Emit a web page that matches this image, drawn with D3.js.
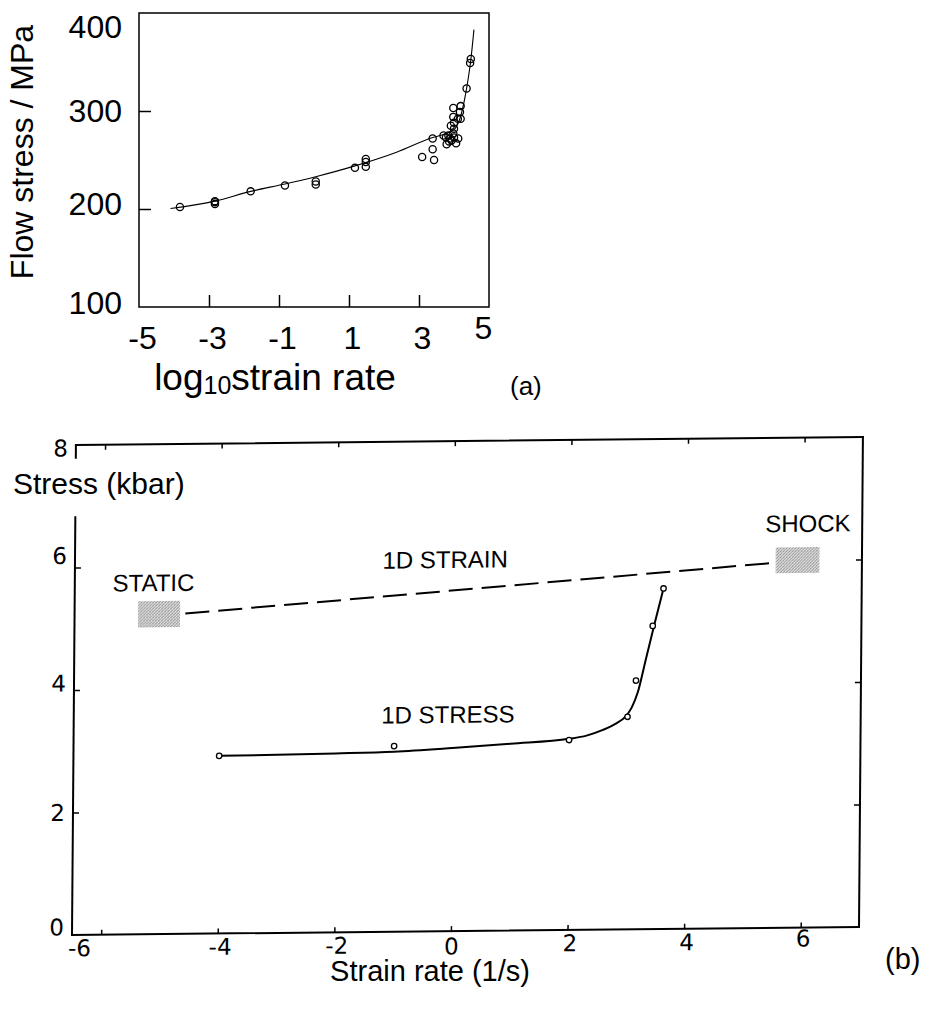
<!DOCTYPE html>
<html>
<head>
<meta charset="utf-8">
<script src="https://cdn.jsdelivr.net/npm/d3@7"></script>
<style>
  html, body { margin: 0; padding: 0; background: #fff; }
  svg { display: block; font-family: "Liberation Sans", Arial, Helvetica, sans-serif; }
</style>
</head>
<body>
<svg id="fig" width="925" height="1012"></svg>
<script>
// ---------- Panel (a): flow stress vs log10 strain rate ----------
const aRateTicks = [-5, -3, -1, 1, 3, 5];
const aStressTicks = [100, 200, 300, 400];

const aRate = [-3.83, -2.83, -2.83, -2.83, -1.81, -0.83, 0.05, 0.05, 1.17, 1.48, 1.48, 1.48,
  3.09, 3.43, 3.39, 3.39, 3.70, 3.77, 3.84, 3.89, 3.79, 3.93, 3.98, 4.06, 4.12, 3.86, 4.00,
  3.91, 3.98, 4.00, 4.00, 4.11, 4.19, 4.17, 3.98, 4.19, 4.36, 4.46, 4.48];
const aStress = [202, 205, 207, 208, 218, 224, 225, 228, 242, 243, 248, 251,
  253, 250, 261, 272, 275, 273, 275, 272, 266, 270, 277, 267, 272, 269, 273,
  285, 294, 282, 288, 292, 292, 299, 303, 305, 323, 349, 353];

const aFitRate = [-4.1, -2.83, -1.81, -0.83, 0.05, 1.17, 2.36, 3.39, 3.74, 4.03, 4.2, 4.36, 4.48, 4.57];
const aFitStress = [200.5, 208, 218, 225.5, 233, 244, 258, 273, 276.5, 282, 296, 323, 352, 383];

// ---------- Panel (b): stress vs strain rate ----------
const bRateTicks = [-6, -4, -2, 0, 2, 4, 6];
const bStressTicks = [0, 2, 4, 6, 8];

const bStressRate = [-4, -1, 2, 3, 3.14, 3.42, 3.6];
const bStressVal = [2.9, 3.03, 3.1, 3.47, 4.06, 4.95, 5.56];

const bFitRate = [-4, -2, -1, 0, 1, 2, 2.3, 2.58, 2.8, 2.96, 3.07, 3.17, 3.31, 3.45, 3.6];
const bFitStress = [2.9, 2.92, 2.94, 2.99, 3.05, 3.12, 3.17, 3.26, 3.36, 3.47, 3.62, 3.86, 4.42, 4.98, 5.56];

const bStrainRate = [-4.6, 5.5];
const bStrainStress = [5.23, 5.96];

const bRegionNames = ["STATIC", "SHOCK"];
const bRegionRate = [[-5.41, -4.69], [5.52, 6.27]];
const bRegionStress = [[5.01, 5.44], [5.79, 6.21]];

const bNotes = ["STATIC", "1D STRAIN", "SHOCK", "1D STRESS"];
const bNoteRate = [-5.15, -0.15, 6.07, -0.08];
const bNoteStress = [5.60, 5.93, 6.46, 3.40];

const plain = d => String(d);   // hyphen-minus for negative ticks

const svg = d3.select("#fig");
svg.append("rect").attr("width", 925).attr("height", 1012).attr("fill", "#fff");

const defs = svg.append("defs");
const pat = defs.append("pattern").attr("id", "stipple")
  .attr("width", 3).attr("height", 3).attr("patternUnits", "userSpaceOnUse");
pat.append("rect").attr("width", 3).attr("height", 3).attr("fill", "#e2e2e2");
[[0, 0, "#6a6a6a"], [2, 1, "#909090"], [1, 2, "#7e7e7e"]].forEach(([x, y, c]) =>
  pat.append("rect").attr("x", x).attr("y", y).attr("width", 1).attr("height", 1).attr("fill", c));

// ===== Panel (a) =====
const xA = d3.scaleLinear().domain([-5, 5]).range([139, 489]);
const yA = d3.scaleLinear().domain([100, 400]).range([307, 13]);
const gA = svg.append("g");

gA.append("rect")
  .attr("x", xA(-5)).attr("y", yA(400))
  .attr("width", xA(5) - xA(-5)).attr("height", yA(100) - yA(400))
  .attr("fill", "none").attr("stroke", "#000").attr("stroke-width", 1.5);

const axA_x = gA.append("g").attr("transform", `translate(0,${yA(100)})`)
  .call(d3.axisBottom(xA).tickValues(aRateTicks).tickSize(-12).tickPadding(19).tickFormat(plain));
const axA_y = gA.append("g").attr("transform", `translate(${xA(-5)},0)`)
  .call(d3.axisLeft(yA).tickValues(aStressTicks).tickSize(-12).tickPadding(17).tickFormat(plain));
[axA_x, axA_y].forEach(ax => {
  ax.select(".domain").remove();
  ax.selectAll("line").attr("stroke", "#000").attr("stroke-width", 1.5);
  ax.selectAll("text").attr("font-size", 32).attr("fill", "#000")
    .attr("font-family", "'Liberation Sans', Arial, sans-serif");
});
axA_x.selectAll(".tick").filter(d => d === -5 || d === 5).select("line").remove();
axA_x.selectAll(".tick text").attr("dx", d => d === 5 ? -6 : 3).attr("dy", d => d === 5 ? "0.4em" : "0.71em");
const aYNudge = {400: 14, 300: 0, 200: -5, 100: -4};
axA_y.selectAll(".tick text").attr("dy", d => `${0.32 * 32 + aYNudge[d]}px`);
axA_y.selectAll(".tick").filter(d => d === 100 || d === 400).select("line").remove();

const lineA = d3.line().x(d => xA(d[0])).y(d => yA(d[1])).curve(d3.curveMonotoneX);
gA.append("path").datum(d3.zip(aFitRate, aFitStress))
  .attr("d", lineA).attr("fill", "none").attr("stroke", "#000").attr("stroke-width", 1.1);

gA.selectAll("circle.pa").data(d3.zip(aRate, aStress)).join("circle")
  .attr("class", "pa")
  .attr("cx", d => xA(d[0])).attr("cy", d => yA(d[1])).attr("r", 3.6)
  .attr("fill", "none").attr("stroke", "#000").attr("stroke-width", 1.3);

gA.append("text").attr("transform", "translate(33,152) rotate(-90)")
  .attr("text-anchor", "middle").attr("font-size", 32).text("Flow stress / MPa");

const xLab = gA.append("text").attr("x", 275).attr("y", 390).attr("text-anchor", "middle")
  .attr("font-size", 37);
xLab.append("tspan").text("log");
xLab.append("tspan").attr("font-size", 25).attr("dy", 4).text("10");
xLab.append("tspan").attr("dy", -4).text("strain rate");

gA.append("text").attr("x", 510).attr("y", 395).attr("font-size", 26).text("(a)");

// ===== Panel (b) =====
const xB = d3.scaleLinear().domain([-6.5, 7]).range([72, 859]);
const yB = d3.scaleLinear().domain([0, 8]).range([935, 445]);

// the panel's frame is slightly sheared: right side sits higher, top leans right
const gB = svg.append("g")
  .attr("transform", "translate(72,935) matrix(1,-0.0102,-0.008,1,0,0) translate(-72,-935)");

// frame (left side interrupted where the axis title sits)
const frame = [
  [[-6.5, 8], [7, 8]], [[7, 8], [7, 0]], [[7, 0], [-6.5, 0]],
  [[-6.5, 0], [-6.5, 6.82]], [[-6.5, 7.79], [-6.5, 8]]
];
gB.selectAll("line.frame").data(frame).join("line").attr("class", "frame")
  .attr("x1", d => xB(d[0][0])).attr("y1", d => yB(d[0][1]))
  .attr("x2", d => xB(d[1][0])).attr("y2", d => yB(d[1][1]))
  .attr("stroke", "#000").attr("stroke-width", 2).attr("stroke-linecap", "square");

const axB_bottom = gB.append("g").attr("transform", `translate(0,${yB(0)})`)
  .call(d3.axisBottom(xB).tickValues(bRateTicks).tickSize(-5).tickPadding(5).tickFormat(plain));
const axB_top = gB.append("g").attr("transform", `translate(0,${yB(8)})`)
  .call(d3.axisTop(xB).tickValues(bRateTicks).tickSize(-5).tickFormat(""));
const axB_left = gB.append("g").attr("transform", `translate(${xB(-6.5)},0)`)
  .call(d3.axisLeft(yB).tickValues(bStressTicks).tickSize(-6).tickPadding(8).tickFormat(plain));
const axB_right = gB.append("g").attr("transform", `translate(${xB(7)},0)`)
  .call(d3.axisRight(yB).tickValues([2, 4, 6]).tickSize(-6).tickFormat(""));
[axB_bottom, axB_top, axB_left, axB_right].forEach(ax => {
  ax.select(".domain").remove();
  ax.selectAll("line").attr("stroke", "#000").attr("stroke-width", 1.5);
  ax.selectAll("text").attr("font-size", 23).attr("fill", "#000")
    .attr("font-family", "'DejaVu Sans', 'Liberation Sans', sans-serif");
});
axB_left.selectAll(".tick").filter(d => d === 0 || d === 8).select("line").remove();
axB_bottom.selectAll(".tick text").attr("dx", d => d === -6 ? -22 : (d === 0 ? 0 : 2))
  .attr("dy", d => d === 0 ? "0.8em" : (d === 6 ? "0.6em" : "0.71em"));
const bYNudge = {8: 3, 6: -12, 4: -7, 2: 0, 0: -8};
axB_left.selectAll(".tick text").attr("dy", d => `${0.34 * 23 + bYNudge[d]}px`);

// shaded regions
gB.selectAll("rect.region").data(d3.range(bRegionNames.length)).join("rect")
  .attr("class", "region")
  .attr("x", i => xB(bRegionRate[i][0])).attr("y", i => yB(bRegionStress[i][1]))
  .attr("width", i => xB(bRegionRate[i][1]) - xB(bRegionRate[i][0]))
  .attr("height", i => yB(bRegionStress[i][0]) - yB(bRegionStress[i][1]))
  .attr("fill", "url(#stipple)");

// 1D strain trend (dashed)
const lineB = d3.line().x(d => xB(d[0])).y(d => yB(d[1]));
gB.append("path").datum(d3.zip(bStrainRate, bStrainStress))
  .attr("d", lineB).attr("fill", "none").attr("stroke", "#000")
  .attr("stroke-width", 2).attr("stroke-dasharray", "24,9");

// 1D stress curve and measurements
gB.append("path").datum(d3.zip(bFitRate, bFitStress))
  .attr("d", lineB.curve(d3.curveMonotoneX)).attr("fill", "none")
  .attr("stroke", "#000").attr("stroke-width", 2);
gB.selectAll("circle.pb").data(d3.zip(bStressRate, bStressVal)).join("circle")
  .attr("class", "pb")
  .attr("cx", d => xB(d[0])).attr("cy", d => yB(d[1])).attr("r", 2.7)
  .attr("fill", "#fff").attr("stroke", "#000").attr("stroke-width", 1.3);

gB.selectAll("text.note").data(d3.range(bNotes.length)).join("text")
  .attr("class", "note")
  .attr("x", i => xB(bNoteRate[i])).attr("y", i => yB(bNoteStress[i]))
  .attr("text-anchor", "middle").attr("font-size", 24)
  .text(i => bNotes[i]);

svg.append("text").attr("x", 13).attr("y", 494).attr("font-size", 30).text("Stress (kbar)");
svg.append("text").attr("x", 430).attr("y", 981).attr("text-anchor", "middle")
  .attr("font-size", 29).text("Strain rate (1/s)");
svg.append("text").attr("x", 885).attr("y", 969).attr("font-size", 29).text("(b)");
</script>
</body>
</html>
